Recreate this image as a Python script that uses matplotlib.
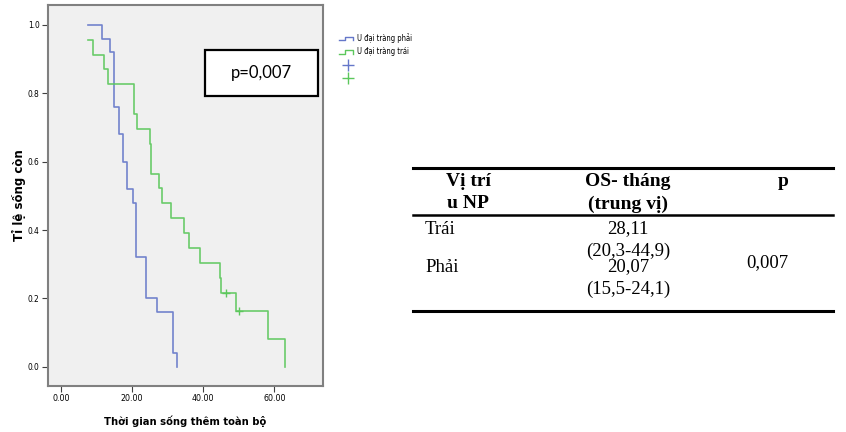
import matplotlib
matplotlib.use("Agg")
import matplotlib.pyplot as plt
import numpy as np
from matplotlib.lines import Line2D
from matplotlib.legend_handler import HandlerBase
from matplotlib.patches import Rectangle
from matplotlib import font_manager

# Kaplan-Meier curves, overall survival by tumour side
right_t = [7.7, 11.6, 13.8, 14.9, 16.3, 17.4, 18.7, 20.2, 21.2, 23.9, 27.1, 31.5, 32.6]
right_s = [1.0, 0.96, 0.92, 0.76, 0.68, 0.60, 0.52, 0.48, 0.32, 0.20, 0.16, 0.04, 0.0]
left_t = [7.7, 9.1, 12.0, 13.1, 20.5, 21.4, 24.9, 25.4, 27.7, 28.3, 30.9, 34.6,
          36.1, 39.2, 44.6, 44.9, 49.3, 58.3, 63.0]
left_s = [0.957, 0.913, 0.870, 0.826, 0.739, 0.696, 0.652, 0.565, 0.522, 0.478,
          0.435, 0.391, 0.348, 0.304, 0.261, 0.217, 0.163, 0.082, 0.0]
left_cens_t = [46.3, 50.2]
left_cens_s = [0.217, 0.163]

labels = ["U đại tràng phải", "U đại tràng trái"]
xticks = [0, 20, 40, 60]
yticks = [0.0, 0.2, 0.4, 0.6, 0.8, 1.0]

# summary table
tbl_header = [["Vị trí", "u NP"], ["OS- tháng", "(trung vị)"], ["p"]]
tbl_groups = ["Trái", "Phải"]
tbl_median = ["28,11", "20,07"]
tbl_ci = ["(20,3-44,9)", "(15,5-24,1)"]
tbl_p = "0,007"

BLUE = "#6577c9"
GREEN = "#5cc75c"
serif = ["Liberation Serif", "DejaVu Serif"]

# narrow sans for the SPSS-style labels
names = {f.name for f in font_manager.fontManager.ttflist}
cond = [f for f in font_manager.fontManager.ttflist
        if f.name == "DejaVu Sans" and "ondensed" in f.fname]
if "Liberation Sans Narrow" in names:
    narrow = dict(family="Liberation Sans Narrow")
elif cond:
    narrow = dict(family="DejaVu Sans", stretch="condensed")
else:
    narrow = dict(family="Roboto")

W, H = 846, 432
fig = plt.figure(figsize=(W / 100, H / 100), dpi=100)


def fx(x):
    return x / W


def fy(y):
    return 1 - y / H


ax = fig.add_axes([fx(48), fy(386), fx(323) - fx(48), fy(5) - fy(386)])
ax.set_facecolor("#f0f0f0")

ax.step(right_t, right_s, where="post", color=BLUE, lw=1.2, alpha=0.9)
ax.step(left_t, left_s, where="post", color=GREEN, lw=1.2, alpha=0.9)
ax.plot(left_cens_t, left_cens_s, "+", color=GREEN, ms=6, mew=1)

ax.set_xlim(-3.66, 73.7)
ax.set_ylim(-0.056, 1.058)
ax.set_xticks(xticks)
ax.set_xticklabels([f"{v:.2f}" for v in xticks], fontsize=6.3, **narrow)
ax.set_yticks(yticks)
ax.set_yticklabels([f"{v:.1f}" for v in yticks], fontsize=6, **narrow)
ax.tick_params(length=4, width=0.8, color="#404040", pad=2)
for sp in ax.spines.values():
    sp.set_color("#808080")
    sp.set_linewidth(1.5)

ax.set_xlabel("Thời gian sống thêm toàn bộ", fontsize=8, fontweight="bold",
              **narrow)
ax.xaxis.set_label_coords(0.5, -0.077)
ax.set_ylabel("Tỉ lệ sống còn", fontsize=8.5, fontweight="bold",
              family="DejaVu Sans")
ax.yaxis.set_label_coords(-0.08, 0.5)

# p-value box
ax.add_patch(Rectangle((0.571, 0.761), 0.411, 0.121, transform=ax.transAxes,
                       facecolor="white", edgecolor="black", lw=1.6, zorder=5))
ax.text(0.776, 0.822, "p=0,007", transform=ax.transAxes, ha="center",
        va="center", fontsize=12, family=["Lato", "DejaVu Sans"], zorder=6)


class StepHandler(HandlerBase):
    def create_artists(self, legend, orig, xd, yd, width, height, fontsize, trans):
        xs = [0, 0.35 * width, 0.35 * width, 0.8 * width, 0.8 * width]
        ys = [0.1 * height, 0.1 * height, 0.8 * height, 0.8 * height, 0.1 * height]
        ln = Line2D(np.array(xs) - xd, np.array(ys) - yd,
                    color=orig.get_color(), lw=1, transform=trans)
        return [ln]


h_right = Line2D([], [], color=BLUE)
h_left = Line2D([], [], color=GREEN)
h_rc = Line2D([], [], color=BLUE, marker="+", ls="none", ms=8)
h_lc = Line2D([], [], color=GREEN, marker="+", ls="none", ms=8)
fig.legend([h_right, h_left, h_rc, h_lc], labels + ["", ""],
           loc="upper left", bbox_to_anchor=(fx(339), fy(33)),
           frameon=False, prop=dict(size=5.5, **narrow),
           handler_map={h_right: StepHandler(), h_left: StepHandler()},
           handlelength=2.3, handletextpad=0.05, labelspacing=0.55,
           borderpad=0, borderaxespad=0)

# table on the right
x0, x1 = 413, 833
for y, lw in [(168, 2.2), (215, 1.8), (311, 2.2)]:
    fig.add_artist(Line2D([fx(x0), fx(x1)], [fy(y), fy(y)], color="black", lw=lw))

col_x = [468, 628, 783]
for cx, lines in zip(col_x, tbl_header):
    for i, s in enumerate(lines):
        fig.text(fx(cx), fy(182 + 22 * i), s, ha="center", va="center",
                 family=serif, fontsize=14, fontweight="bold")

row_y = [229, 267]
for i, (g, m, ci) in enumerate(zip(tbl_groups, tbl_median, tbl_ci)):
    fig.text(fx(425), fy(row_y[i]), g, ha="left", va="center",
             family=serif, fontsize=13.5)
    fig.text(fx(628), fy(row_y[i]), m, ha="center", va="center",
             family=serif, fontsize=13.5)
    fig.text(fx(628), fy(row_y[i] + 22), ci, ha="center", va="center",
             family=serif, fontsize=13.5)
fig.text(fx(767), fy(263), tbl_p, ha="center", va="center",
         family=serif, fontsize=13.5)

fig.savefig("out.png", dpi=100, facecolor="white")
